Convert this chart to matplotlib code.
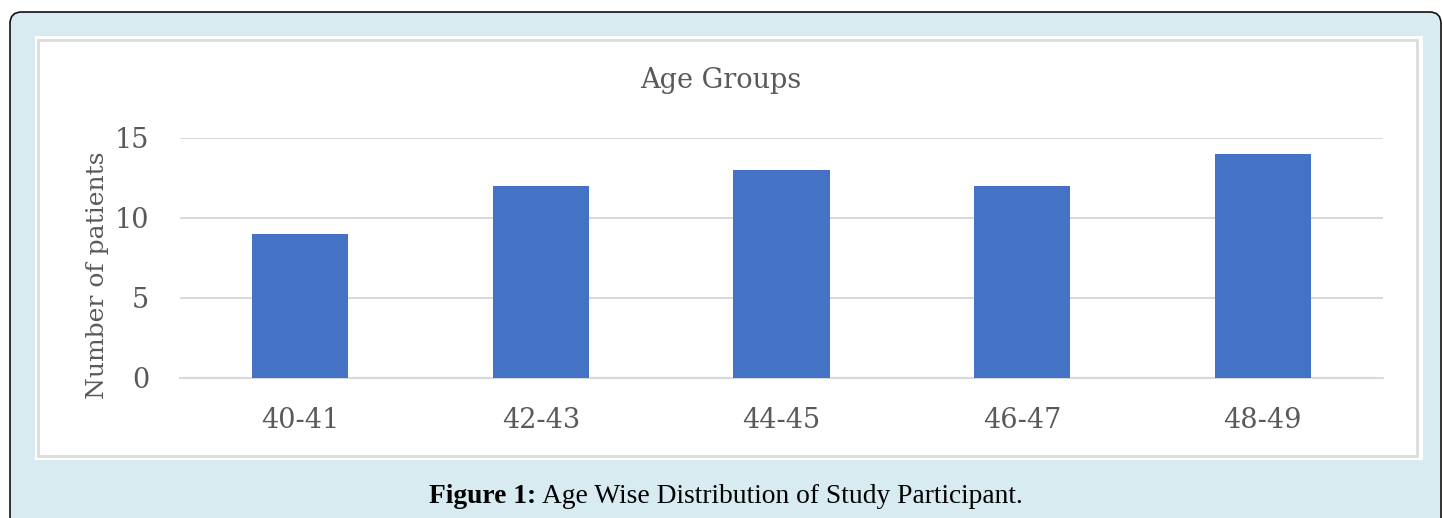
import matplotlib
matplotlib.use('Agg')
import matplotlib.pyplot as plt
from matplotlib.patches import FancyBboxPatch, Rectangle

categories = ['40-41', '42-43', '44-45', '46-47', '48-49']
patients = [9, 12, 13, 12, 14]
yticks = [0, 5, 10, 15]

W, H = 1442, 518
fig = plt.figure(figsize=(W / 100, H / 100), dpi=100, facecolor='white')

def fx(px):
    return px / W

def fy(py):
    return 1 - py / H

# outer rounded frame, light blue
frame = FancyBboxPatch((fx(10), fy(560)), fx(1441) - fx(10), fy(12) - fy(560),
                       boxstyle='round,pad=0,rounding_size=0.008',
                       transform=fig.transFigure, facecolor='#d7ebf1',
                       edgecolor='#111111', linewidth=1.2, mutation_aspect=W / H,
                       zorder=-10)
fig.patches.append(frame)

# white panel with grey border
fig.patches.append(Rectangle((fx(35), fy(460)), fx(1423) - fx(35), fy(36) - fy(460),
                             transform=fig.transFigure, facecolor='white',
                             edgecolor='none', zorder=-9))
fig.patches.append(Rectangle((fx(38), fy(456)), fx(1417) - fx(38), fy(40) - fy(456),
                             transform=fig.transFigure, facecolor='none',
                             edgecolor='#dcdcdc', linewidth=2, zorder=-8))

serif = ['DejaVu Serif']
grey = '#595959'

ax = fig.add_axes([fx(180), fy(378), fx(1383) - fx(180), fy(138) - fy(378)])
ax.set_facecolor('none')
ax.bar(range(len(categories)), patients, width=0.4, color='#4472c4', zorder=3)
ax.set_xlim(-0.5, len(categories) - 0.5)
ax.set_ylim(0, 15)
ax.set_yticks(yticks)
ax.set_xticks(range(len(categories)))
ax.set_xticklabels(categories)
for s in ['top', 'right', 'left']:
    ax.spines[s].set_visible(False)
ax.spines['bottom'].set_color('#d9d9d9')
ax.spines['bottom'].set_linewidth(1.5)
ax.grid(axis='y', color='#d9d9d9', linewidth=1.5, zorder=0)
ax.tick_params(length=0, labelsize=19.5, labelcolor=grey)
ax.tick_params(axis='x', pad=21)
ax.tick_params(axis='y', pad=22)
for lbl in ax.get_xticklabels() + ax.get_yticklabels():
    lbl.set_family(serif)

ax.set_ylabel('Number of patients', fontsize=18, color=grey, family=serif)
ax.yaxis.set_label_coords(-0.059, 0.43)
fig.text(0.5, fy(80), 'Age Groups', ha='center', va='center', fontsize=19.5,
         color=grey, family=serif)

# caption with bold prefix
fig.canvas.draw()
r = fig.canvas.get_renderer()
cap_font = ['Liberation Serif']
t1 = fig.text(fx(429), fy(503), 'Figure 1:', fontsize=19.8, fontweight='bold',
              family=cap_font, color='black', va='baseline')
bb = t1.get_window_extent(renderer=r)
fig.text((bb.x1 + 6) / W, fy(503), 'Age Wise Distribution of Study Participant.',
         fontsize=19.8, family=cap_font, color='black', va='baseline')

fig.savefig('out.png', dpi=100, facecolor='white')
